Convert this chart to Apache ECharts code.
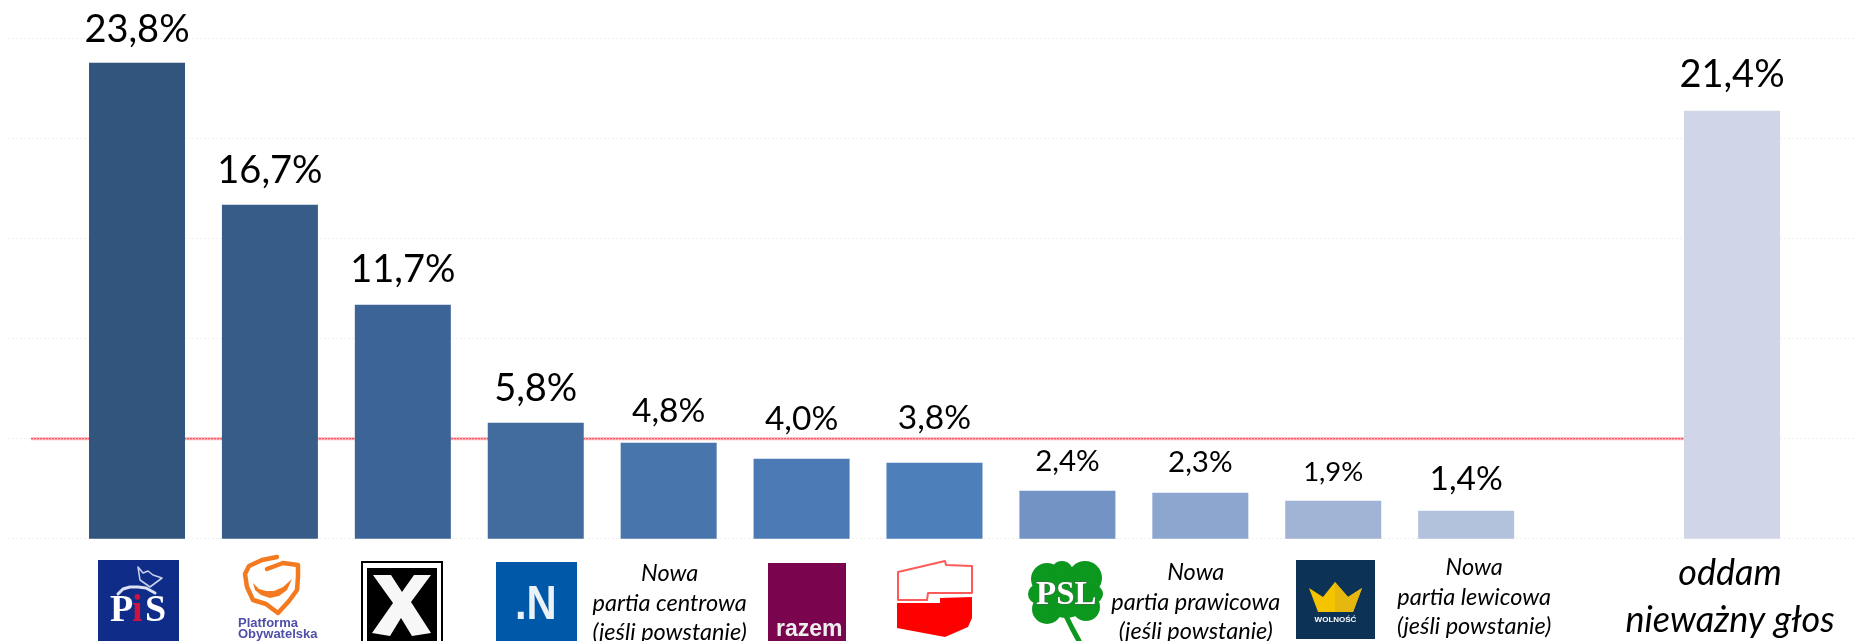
<!DOCTYPE html>
<html>
<head>
<meta charset="utf-8">
<style>html,body{margin:0;padding:0;background:#fff}#c{width:1855px;height:641px}</style>
<script src="https://cdn.jsdelivr.net/npm/echarts@6/dist/echarts.min.js"></script>
</head>
<body>
<div id="c"></div>
<script>
const categories = ['PiS', 'Platforma Obywatelska', "Kukiz'15", '.N',
  'Nowa\npartia centrowa\n(jeśli powstanie)', 'razem', 'Logo biało-czerwone', 'PSL',
  'Nowa\npartia prawicowa\n(jeśli powstanie)', 'Wolność',
  'Nowa\npartia lewicowa\n(jeśli powstanie)', '', 'oddam\nnieważny głos'];
const values = [23.8, 16.7, 11.7, 5.8, 4.8, 4.0, 3.8, 2.4, 2.3, 1.9, 1.4, null, 21.4];
const barColors = ['#31557C', '#385C88', '#3D6497', '#426C9E', '#4875AB', '#4A79B4', '#4D7FBB',
  '#7393C5', '#8CA6CF', '#A1B4D6', '#B2C2DD', '#FFFFFF', '#D0D6E7'];
const labelFontSizes = [38, 38, 38, 38, 33.5, 33.5, 33.5, 29.5, 29.5, 27.5, 33.5, 12, 38];
const labelGaps = [20, 21, 22, 21, 20, 28, 32.5, 19, 20, 19, 20, 0, 23];
const thresholdLine = [5, 5];
const thresholdEnds = ['a', 'b'];
const yTicks = { min: 0, max: 25, interval: 5 };

const FONT = 'Lato';
const LOGO_PANELS = [4, 8, 10, 12];

function axisItem(name, i) {
  if (!LOGO_PANELS.includes(i)) return { value: name };
  const big = i === 12;
  const top = { 4: 12, 8: 11, 10: 6, 12: 3 }[i];
  const leftShift = { 4: 2, 8: 0, 10: 16, 12: 0 }[i];
  const rightShift = { 4: 0, 8: 9, 10: 0, 12: 4 }[i];
  return {
    value: name,
    textStyle: {
      fontFamily: FONT, fontStyle: 'italic', color: '#000',
      fontSize: big ? 36 : 23.5, lineHeight: big ? 47 : 29.5,
      padding: [top, rightShift, 0, leftShift], align: 'center', verticalAlign: 'top'
    }
  };
}

function txt(text, x, y, size, color, extra) {
  return { type: 'text', x, y: y + size * 0.2, silent: true, style: Object.assign({
    text, fill: color, fontSize: size, fontWeight: 'bold', fontFamily: 'Liberation Sans',
    textAlign: 'left', verticalAlign: 'bottom'
  }, extra || {}) };
}
function rect(x, y, w, h, fill) { return { type: 'rect', shape: { x, y, width: w, height: h }, style: { fill }, silent: true }; }
function poly(points, fill, stroke, lw) {
  return { type: 'polygon', shape: { points }, silent: true,
    style: { fill: fill || 'none', stroke: stroke || 'none', lineWidth: lw || 0, lineJoin: 'round' } };
}
function polyline(points, stroke, lw) {
  return { type: 'polyline', shape: { points }, silent: true, style: { fill: 'none', stroke, lineWidth: lw, lineJoin: 'round', lineCap: 'round' } };
}
function circle(cx, cy, r, fill) { return { type: 'circle', shape: { cx, cy, r }, style: { fill }, silent: true }; }
const SERIF = { fontFamily: 'Liberation Serif' };
const GREEN = '#0C981F';

const logos = [
  // PiS
  rect(98, 560, 81, 81, '#0F2C88'),
  polyline([[138,567],[140,580],[150,587],[162,578],[153,575],[148,571],[143,573],[138,567]], '#C8D0EA', 1.6),
  polyline([[118,594],[123,589],[130,587],[138,587],[146,588],[155,593]], '#DDE2F2', 3),
  txt('P', 110, 623, 38, '#fff', SERIF),
  txt('i', 132, 623, 38, '#D0123C', SERIF),
  txt('S', 145, 623, 38, '#fff', SERIF),
  // Platforma Obywatelska
  polyline([[277,557],[262,560],[249,566],[245,574],[247,587],[253,600],[266,604],[278,613],[289,601],[297,590],[298,577],[298,565],[283,563],[267,569]], '#F47A1F', 4.5),
  poly([[253,583],[259,589],[266,591],[274,591],[283,587],[292,579],[287,590],[279,596],[270,598],[261,595],[255,590]], '#F47A1F'),
  txt('Platforma', 238, 627, 13, '#4F4FA8'),
  txt('Obywatelska', 238, 638, 13, '#4F4FA8'),
  // X
  rect(361, 561, 82, 80, '#000'),
  rect(363, 563, 78, 78, '#fff'),
  rect(367, 568, 70, 73, '#000'),
  poly([[373,575],[391,575],[402,592],[414,575],[431,575],[411,602],[431,633],[412,636],[401,618],[390,636],[372,633],[393,603]], '#F7F7F7'),
  // .N
  rect(496, 562, 81, 79, '#0059A8'),
  Object.assign(txt('.N', 515, 620, 48, '#EAF1F8'), { scaleX: 0.87 }),
  // razem
  rect(768, 563, 78, 78, '#7A044E'),
  txt('razem', 776, 637, 23, '#EEE'),
  // white and red
  poly([[898,572],[945,561],[946,565],[972,566],[972,593],[928,593],[927,600],[898,600]], '#fff', '#FF5A5A', 2),
  poly([[897,603],[940,603],[940,598],[972,597],[972,618],[968,627],[945,637],[897,628]], '#FF0000'),
  // PSL
  polyline([[1064,612],[1072,628],[1079,641]], GREEN, 5),
  circle(1047, 579, 16, GREEN), circle(1062, 572, 11, GREEN), circle(1085, 578, 17, GREEN), circle(1094, 594, 9, GREEN),
  circle(1047, 609, 15, GREEN), circle(1038, 594, 10, GREEN), circle(1086, 607, 14, GREEN), circle(1066, 594, 24, GREEN),
  txt('PSL', 1036, 605, 33, '#fff', { fontFamily: 'Liberation Serif', stroke: '#555', lineWidth: 0.8 }),
  // Wolność
  rect(1296, 560, 79, 79, '#0C3355'),
  poly([[1309,588],[1323,597],[1335,582],[1348,597],[1362,588],[1353,612],[1318,612]], '#F5C400'),
  poly([[1335,582],[1348,597],[1362,588],[1353,612],[1335,612]], '#E6B80F'),
  txt('WOLNOŚĆ', 1335.5, 622, 8, '#fff', { textAlign: 'center' })
];

const chart = echarts.init(document.getElementById('c'), null, { renderer: 'canvas' });
chart.setOption({
  backgroundColor: '#fff',
  animation: false,
  grid: [
    { left: 70.54, top: 38.7, width: 1727.9, height: 500, outerBoundsMode: 'none', containLabel: false },
    { left: 8, top: 38.7, width: 1847, height: 500, outerBoundsMode: 'none', containLabel: false },
    { left: 31, top: 38.7, width: 1669, height: 500, outerBoundsMode: 'none', containLabel: false }
  ],
  xAxis: [
    { gridIndex: 0, type: 'category', data: categories.map(axisItem),
      axisLine: { show: false }, axisTick: { show: false },
      axisLabel: { show: true, interval: 0, margin: 8, hideOverlap: false,
        formatter: (v, i) => LOGO_PANELS.includes(i) ? v : '' } },
    { gridIndex: 1, type: 'category', data: ['', ''], show: false },
    { gridIndex: 2, type: 'category', data: thresholdEnds, boundaryGap: false, show: false }
  ],
  yAxis: [
    Object.assign({ gridIndex: 0, type: 'value', show: false, splitLine: { show: false } }, yTicks),
    Object.assign({ gridIndex: 1, type: 'value', axisLine: { show: false }, axisTick: { show: false }, axisLabel: { show: false },
      splitLine: { show: true, lineStyle: { color: '#F0F0F0', type: [2, 2], width: 1 } } }, yTicks),
    Object.assign({ gridIndex: 2, type: 'value', show: false, splitLine: { show: false } }, yTicks)
  ],
  series: [
    { type: 'line', xAxisIndex: 2, yAxisIndex: 2, data: thresholdLine, symbol: 'none', z: 2, silent: true,
      lineStyle: { color: '#FFB3B8', width: 3 } },
    { type: 'line', xAxisIndex: 2, yAxisIndex: 2, data: thresholdLine, symbol: 'none', z: 2, silent: true,
      lineStyle: { color: '#F5404F', width: 1, type: [2, 1] } },
    { type: 'bar', xAxisIndex: 0, yAxisIndex: 0, barWidth: 96, z: 3, silent: true,
      data: values.map((v, i) => ({
        value: v,
        itemStyle: { color: barColors[i] },
        label: {
          show: v !== null, position: 'top', color: '#000', fontFamily: FONT,
          fontSize: labelFontSizes[i], lineHeight: labelFontSizes[i],
          distance: labelGaps[i] - 0.15 * labelFontSizes[i],
          formatter: p => p.value.toFixed(1).replace('.', ',') + '%'
        }
      })) }
  ],
  graphic: { elements: logos }
});
</script>
</body>
</html>
